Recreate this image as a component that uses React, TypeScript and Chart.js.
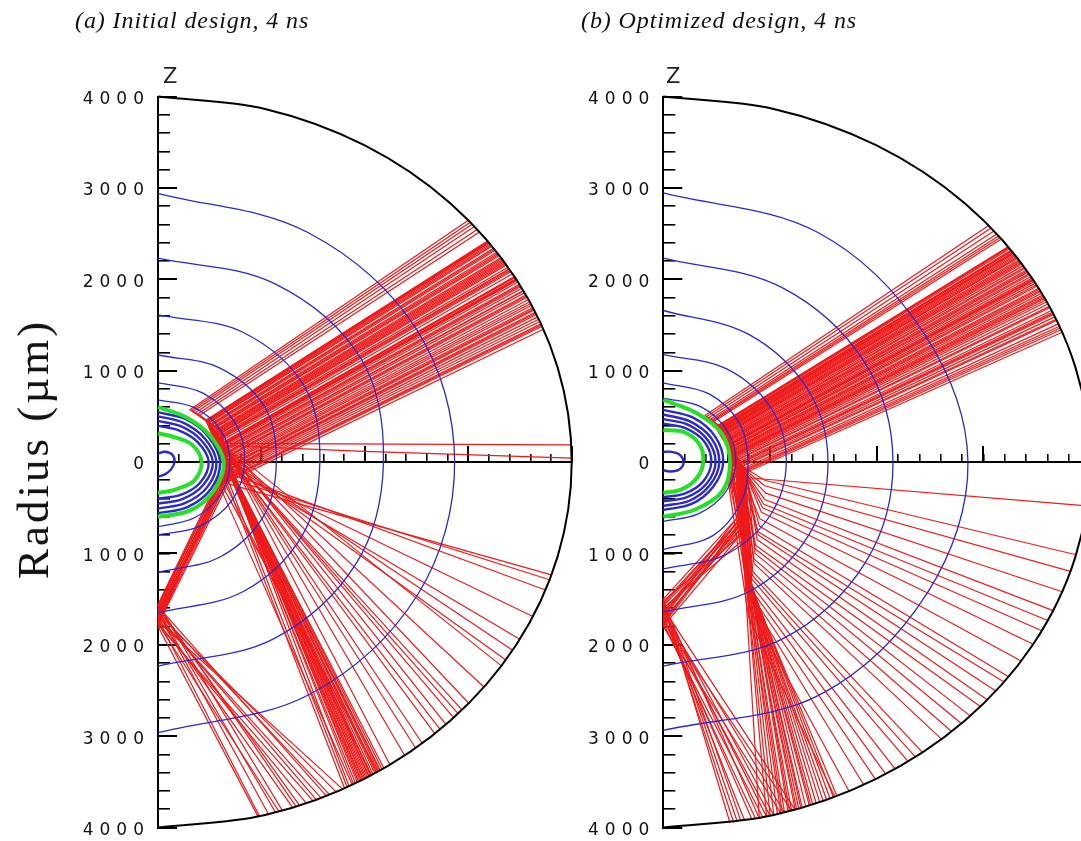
import React, { useEffect, useRef } from "react";
import { Chart, registerables } from "chart.js";

Chart.register(...registerables);

// ---------------- data (µm) ----------------
const boundaryRadius = 4000;
const boundaryAngles = [90, 75, 60, 45, 30, 15, 0, -15, -30, -45, -60, -75, -90];
const contourAngles = [90, 60, 30, 0, -30, -60, -90];

// contour radii sampled at contourAngles
const leftBlueThin: number[][] = [
  [2941, 2900, 2890, 2868, 2900, 2935, 2963],
  [2230, 2255, 2265, 2180, 2215, 2235, 2233],
  [1609, 1640, 1640, 1565, 1610, 1640, 1650],
  [1171, 1190, 1195, 1144, 1180, 1200, 1207],
  [868, 870, 860, 838, 830, 810, 800],
  [679, 690, 700, 696, 700, 705, 708],
];
const leftBlueThick: number[][] = [
  [545, 540, 560, 600, 590, 570, 560],
  [500, 495, 520, 565, 550, 520, 510],
  [450, 450, 480, 530, 505, 470, 455],
  [395, 400, 440, 490, 465, 420, 400],
  [90, 130, 160, 160, 150, 150, 160],
];
const leftGreen: number[][] = [
  [600, 560, 580, 635, 625, 615, 599],
  [314, 315, 380, 422, 405, 345, 340],
];

const rightBlueThin: number[][] = [
  [2945, 2900, 2820, 2856, 2860, 2940, 2937],
  [2230, 2210, 2180, 2153, 2190, 2235, 2233],
  [1658, 1610, 1570, 1544, 1580, 1630, 1640],
  [1175, 1180, 1170, 1153, 1160, 1170, 1169],
  [867, 860, 830, 794, 850, 930, 958],
  [700, 700, 690, 680, 670, 655, 650],
];
const rightBlueThick: number[][] = [
  [570, 560, 560, 562, 540, 530, 525],
  [520, 510, 520, 525, 505, 490, 480],
  [470, 470, 480, 490, 470, 445, 430],
  [420, 425, 445, 450, 430, 400, 385],
  [110, 130, 170, 190, 170, 120, 90],
];
const rightGreen: number[][] = [
  [679, 620, 630, 625, 640, 600, 599],
  [350, 380, 390, 375, 360, 345, 340],
];

// turning surface radius of the rays in each panel
const leftTurnRadius = 650;
const rightTurnRadius = 640;

// rays: [entry angle on boundary, turning angle on the turning surface,
//        [x,y, ...] further bend / axis-reflection points, exit angle on boundary]
type Ray = [number, number, number[], number];

const leftSteepRays: Ray[] = [
  [37.0, 44.0, [700, -120], -62.5], [36.6, 42.4, [690, -100], -61.8],
  [36.4, 41.6, [705, -135], -61.0], [36.2, 40.9, [720, -150], -61.2],
  [35.8, 39.3, [705, -130], -60.8], [35.6, 38.5, [720, -155], -59.8],
  [35.0, 36.2, [730, -170], -60.3], [34.6, 34.6, [695, -115], -60.5],
  [34.4, 33.9, [715, -140], -60.0], [33.8, 31.5, [740, -190], -59.6],
  [33.6, 30.8, [735, -180], -59.1], [33.0, 28.5, [725, -160], -59.3],
  [32.8, 27.6, [760, -210], -58.2], [32.2, 25.3, [750, -200], -59.0],
  [31.8, 23.8, [710, -140], -60.2], [31.6, 23.0, [735, -175], -58.7],
  [30.3, 17.8, [760, -215], -58.4], [30.1, 17.0, [770, -235], -57.6],
  [29.5, 14.6, [745, -185], -58.1], [28.7, 11.4, [770, -230], -57.8],
  [28.4, 10.1, [745, -190], -59.4], [28.0, 8.5, [755, -200], -57.5],
  [27.2, 5.1, [780, -245], -57.2], [26.4, 1.7, [765, -220], -56.9],
  [25.7, -1.4, [690, -130], -60.6], [25.0, -4.6, [700, -150], -61.5],
  [24.2, -8.4, [], -62.8], [23.4, -12.3, [], -63.2],
  [22.6, -16.4, [], -58.9], [21.8, -20.8, [], -57.9], [21.3, -23.7, [], -62.0],
];
const leftMirrorRays: Ray[] = [
  [41.4, 61.7, [600, 350, 640, -60, 0, -1560], -72.5],
  [41.0, 59.9, [605, 345, 650, -80, 0, -1600], -70.0],
  [40.6, 58.4, [610, 340, 660, -100, 0, -1640], -74.5],
  [40.1, 56.2, [615, 335, 670, -120, 0, -1680], -67.5],
  [39.5, 53.8, [620, 330, 680, -140, 0, -1720], -75.8],
  [39.0, 51.8, [625, 325, 690, -160, 0, -1760], -69.0],
  [37.1, 44.3, [655, -85, 0, -1570], -70.5],
  [34.8, 35.4, [650, -70, 0, -1580], -66.0], [33.4, 30.0, [665, -95, 0, -1620], -73.5],
  [31.9, 24.1, [680, -115, 0, -1660], -64.5], [30.0, 16.7, [700, -140, 0, -1700], -71.0],
  [28.9, 12.3, [685, -125, 0, -1690], -66.8],
  [27.6, 6.9, [660, -90, 0, -1740], -63.5], [26.0, 0.0, [710, -160, 0, -1780], -68.0],
  [24.6, -6.4, [0, -1800], -76.0], [23.8, -10.3, [0, -1770], -73.0],
  [22.2, -18.6, [0, -1640], -65.5],
];
const leftFanRays: Ray[] = [
  [37.2, 44.7, [715, 25], -51.5],
  [36.9, 43.6, [700, 40], -55.9], [36.8, 43.2, [710, 30], -53.4],
  [35.4, 37.7, [720, 20], -50.3], [34.0, 32.3, [730, 0], -48.0],
  [33.2, 29.3, [750, -5], -43.5],
  [32.6, 26.9, [740, -20], -47.0], [31.4, 22.2, [745, 30], -45.9],
  [31.0, 20.6, [765, 40], -38.0],
  [30.5, 18.6, [750, 10], -44.4], [29.8, 15.9, [755, -10], -42.7],
  [29.1, 13.1, [760, 50], -41.3], [27.9, 8.0, [770, 70], -33.9],
  [27.0, 4.2, [], -31.0],
  [26.8, 3.3, [], -32.8], [25.4, -2.8, [], -29.0], [24.8, -5.6, [], -25.0],
  [24.0, -9.3, [], -20.5], [23.0, -14.3, [], -18.8], [22.0, -19.6, [], -18.0],
];
const leftFlatRays: Ray[] = [
  [30.4, 18.2, [], 2.7],
  [29.9, 16.3, [1934, 120], 0.6],
];

const rightSteepRays: Ray[] = [
  [36.0, 37.8, [700, -40, 740, -1000], -74.0], [35.9, 37.4, [705, -55, 755, -1020], -71.8],
  [35.7, 36.8, [710, -60, 760, -1050], -72.5], [35.4, 35.7, [720, -80, 750, -950], -76.0],
  [35.3, 35.4, [715, -75, 745, -930], -75.5],
  [34.9, 34.1, [705, -50, 770, -1100], -71.0], [34.6, 33.0, [715, -70, 745, -900], -77.0],
  [34.2, 31.7, [725, -90, 780, -1150], -70.0], [33.6, 29.7, [735, -110, 755, -1000], -73.5],
  [33.4, 28.9, [740, -115, 785, -1180], -69.8],
  [33.2, 28.2, [700, -60, 790, -1200], -69.0], [32.8, 26.9, [745, -120, 765, -1050], -72.0],
  [32.0, 24.2, [710, -80, 750, -920], -75.0], [31.5, 22.4, [725, -95, 760, -1000], -73.8],
  [30.5, 19.0, [755, -130, 800, -1250], -68.0],
  [30.0, 17.2, [720, -90, 775, -1100], -71.5], [29.8, 16.5, [760, -135, 800, -1230], -68.5],
  [29.6, 15.8, [730, -100, 760, -980], -74.5], [28.4, 11.5, [765, -140, 810, -1300], -67.0],
  [27.8, 9.4, [740, -110, 785, -1150], -70.5], [27.0, 6.5, [745, -115, 775, -1080], -71.2],
  [26.6, 5.0, [750, -120, 770, -1000], -73.0],
  [25.2, -0.2, [775, -150, 820, -1350], -66.5], [24.2, -4.2, [795, -1200], -69.5],
  [23.4, -7.3, [790, -1250], -67.5],
  [22.8, -9.8, [780, -1050], -72.8], [21.2, -16.7, [830, -1400], -66.0],
];
const rightMirrorRays: Ray[] = [
  [40.3, 52.5, [590, 340, 680, -40, 700, -600, 0, -1500], -79.5],
  [39.8, 50.8, [595, 335, 690, -60, 710, -640, 0, -1540], -77.0],
  [39.2, 48.7, [600, 330, 700, -80, 720, -680, 0, -1580], -80.5],
  [38.6, 46.7, [605, 325, 710, -100, 730, -720, 0, -1620], -75.0],
  [35.2, 35.0, [700, -60, 725, -560, 0, -1660], -73.5],
  [34.8, 33.7, [705, -70, 730, -620, 0, -1560], -80.0],
  [33.9, 30.6, [710, -80, 735, -600, 0, -1700], -78.0],
  [32.5, 25.9, [720, -100, 745, -650, 0, -1740], -72.5],
  [31.0, 20.7, [690, -40, 715, -700, 0, -1780], -76.5],
  [29.0, 13.7, [730, -120, 750, -760, 0, -1800], -74.0],
  [28.2, 10.8, [715, -90, 740, -760, 0, -1640], -76.0],
  [27.5, 8.3, [705, -70, 730, -800, 0, -1520], -81.0],
  [26.0, 2.8, [740, -140, 760, -840, 0, -1600], -72.0],
  [24.5, -3.0, [740, -580, 0, -1680], -79.0],
  [23.0, -8.9, [755, -700, 0, -1720], -75.5],
  [21.5, -15.3, [745, -620, 0, -1760], -77.5],
];
const rightFanRays: Ray[] = [
  [38.2, 45.3, [700, -20, 950, -200], -14.7], [37.9, 44.3, [710, -30, 950, -260], -17.4],
  [37.6, 43.2, [720, -40, 960, -340], -20.8], [36.1, 38.1, [730, -50, 950, -410], -24.0],
  [35.0, 34.4, [740, -60, 940, -460], -25.7], [34.4, 32.3, [745, -65, 930, -500], -27.5],
  [34.0, 31.0, [750, -70, 920, -550], -29.9],
  [33.0, 27.5, [700, -30, 905, -620], -33.0], [32.2, 24.8, [765, -85, 890, -800], -38.8],
  [31.7, 23.1, [760, -80, 900, -700], -36.0],
  [31.3, 21.7, [710, -40, 885, -760], -37.0], [30.8, 20.0, [770, -90, 880, -850], -40.6],
  [30.2, 17.9, [720, -50, 865, -910], -42.0], [29.9, 16.9, [725, -55, 860, -950], -44.0],
  [29.3, 14.7, [780, -100, 860, -1000], -45.7],
  [28.8, 13.0, [730, -60, 850, -1060], -47.5], [28.0, 10.1, [740, -70, 850, -1110], -49.3],
  [27.2, 7.3, [750, -80, 840, -1200], -52.6], [26.8, 5.8, [755, -85, 835, -1240], -53.8],
  [26.3, 3.9, [760, -90, 830, -1280], -55.0],
  [25.6, 1.3, [770, -100, 830, -1350], -57.1], [25.0, -1.0, [745, -75, 820, -1450], -60.2],
  [24.0, -4.9, [825, -1400], -58.6],
  [23.8, -5.7, [820, -1510], -62.0], [22.2, -12.3, [810, -1600], -64.2],
  [20.8, -18.5, [800, -1700], -66.3],
];
const rightFlatRays: Ray[] = [[21.8, -14.1, [], -6.9]];

const yTickStep = 1000;
const yMinorStep = 200;
const xTickStep = 1000;
const xMinorStep = 200;

const titleLeft = "(a) Initial design, 4 ns";
const titleRight = "(b) Optimized design, 4 ns";
const axisName = "Z";
const yAxisTitle = "Radius (µm)";

// ---------------- helpers ----------------
const RED = "#ee1a1a";
const BLUE = "#2a2acc";
const GREEN = "#26e026";

function polar(r: number, deg: number) {
  const a = (deg * Math.PI) / 180;
  return { x: r * Math.cos(a), y: r * Math.sin(a) };
}
function contourPts(radii: number[]) {
  return radii.map((r, i) => polar(r, contourAngles[i]));
}
function rayPts(ray: Ray, turnRadius: number) {
  const [a, t, via, b] = ray;
  const pts = [polar(boundaryRadius, a), polar(turnRadius, t)];
  for (let i = 0; i < via.length; i += 2) pts.push({ x: via[i], y: via[i + 1] });
  pts.push(polar(boundaryRadius, b));
  return pts;
}
function lineDs(data: any[], color: string, width: number, order: number, tension: number) {
  return {
    data,
    borderColor: color,
    backgroundColor: color,
    borderWidth: width,
    pointRadius: 0,
    showLine: true,
    tension,
    order,
    clip: false,
    fill: false,
    borderJoinStyle: "round" as const,
  };
}

type PanelSpec = {
  rays: Ray[];
  turnRadius: number;
  thin: number[][];
  thick: number[][];
  green: number[][];
  axisWidth: number;
  padRight: number;
};

const spacingPlugin = {
  id: "tickLetterSpacing",
  beforeDraw(chart: any) {
    chart.ctx.letterSpacing = "6px";
  },
  afterDraw(chart: any) {
    chart.ctx.letterSpacing = "0px";
  },
};

function Panel({ spec, left, width }: { spec: PanelSpec; left: number; width: number }) {
  const ref = useRef<HTMLCanvasElement | null>(null);
  useEffect(() => {
    if (!ref.current) return;
    const datasets: any[] = [];
    spec.rays.forEach((r) => datasets.push(lineDs(rayPts(r, spec.turnRadius), RED, 1.2, 4, 0)));
    spec.thin.forEach((c) => datasets.push(lineDs(contourPts(c), BLUE, 1.3, 3, 0.35)));
    spec.thick.forEach((c) => datasets.push(lineDs(contourPts(c), BLUE, 2.4, 2, 0.35)));
    spec.green.forEach((c) => datasets.push(lineDs(contourPts(c), GREEN, 4, 1, 0.35)));
    datasets.push(
      lineDs(boundaryAngles.map((a) => polar(boundaryRadius, a)), "#000", 2, 0, 0.34)
    );
    const chart = new Chart(ref.current, {
      type: "scatter",
      data: { datasets },
      options: {
        animation: false,
        responsive: false,
        events: [],
        layout: { padding: { left: 0, top: 96.5, right: spec.padRight, bottom: 13.5 } },
        plugins: { legend: { display: false }, tooltip: { enabled: false } },
        scales: {
          x: {
            type: "linear",
            min: 0,
            max: 4000,
            position: { y: 0 } as any,
            ticks: { display: false, stepSize: xTickStep },
            grid: { drawOnChartArea: false, tickLength: -17, color: "#000", lineWidth: 2 },
            border: { display: true, color: "#000", width: 2 },
          },
          xMinor: {
            type: "linear",
            axis: "x",
            min: 0,
            max: 4000,
            position: { y: 0 } as any,
            ticks: { display: false, stepSize: xMinorStep },
            grid: { drawOnChartArea: false, tickLength: -8, color: "#000", lineWidth: 1.6 },
            border: { display: false },
          },
          y: {
            type: "linear",
            min: -4000,
            max: 4000,
            position: "left",
            weight: 1,
            ticks: {
              stepSize: yTickStep,
              autoSkip: false,
              padding: 27,
              labelOffset: 3,
              color: "#111",
              font: { family: "DejaVu Sans", size: 17 },
              callback: (v: any) => String(Math.abs(Number(v))),
            },
            grid: { drawOnChartArea: false, tickLength: -19, color: "#000", lineWidth: 2 },
            border: { display: true, color: "#000", width: 2 },
            afterFit: (s: any) => {
              s.width = spec.axisWidth;
              s.paddingTop = 0;
              s.paddingBottom = 0;
            },
          },
          yMinor: {
            type: "linear",
            axis: "y",
            min: -4000,
            max: 4000,
            position: "left",
            weight: 0,
            ticks: { display: false, stepSize: yMinorStep },
            grid: { drawOnChartArea: false, tickLength: -12, color: "#000", lineWidth: 1.6 },
            border: { display: false },
            afterFit: (s: any) => {
              s.width = 0;
              s.paddingTop = 0;
              s.paddingBottom = 0;
            },
          },
        },
      } as any,
      plugins: [spacingPlugin],
    });
    return () => chart.destroy();
  }, []);
  return (
    <canvas
      ref={ref}
      width={width}
      height={841}
      style={{ position: "absolute", left, top: 0, width, height: 841 }}
    />
  );
}

const leftSpec: PanelSpec = {
  rays: [...leftSteepRays, ...leftMirrorRays, ...leftFanRays, ...leftFlatRays],
  turnRadius: leftTurnRadius,
  thin: leftBlueThin,
  thick: leftBlueThick,
  green: leftGreen,
  axisWidth: 158,
  padRight: 590 - 571.7,
};
const rightSpec: PanelSpec = {
  rays: [...rightSteepRays, ...rightMirrorRays, ...rightFanRays, ...rightFlatRays],
  turnRadius: rightTurnRadius,
  thin: rightBlueThin,
  thick: rightBlueThick,
  green: rightGreen,
  axisWidth: 663.3 - 570,
  padRight: 1100 - 1090,
};

const titleStyle: React.CSSProperties = {
  position: "absolute",
  top: 6,
  fontFamily: "'Liberation Serif', 'Times New Roman', serif",
  fontStyle: "italic",
  fontSize: 24,
  letterSpacing: 0.9,
  lineHeight: "28px",
  color: "#111",
  whiteSpace: "nowrap",
};
const zStyle: React.CSSProperties = {
  position: "absolute",
  top: 64,
  fontFamily: "'DejaVu Sans', sans-serif",
  fontSize: 21,
  lineHeight: "24px",
  color: "#222",
};

export default function App() {
  return (
    <div
      style={{
        position: "fixed",
        left: 0,
        top: 0,
        width: 1081,
        height: 841,
        overflow: "hidden",
        background: "#fff",
      }}
    >
      <Panel spec={leftSpec} left={0} width={590} />
      <Panel spec={rightSpec} left={570} width={530} />
      <div style={{ ...titleStyle, left: 75 }}>{titleLeft}</div>
      <div style={{ ...titleStyle, left: 581 }}>{titleRight}</div>
      <div style={{ ...zStyle, left: 163 }}>{axisName}</div>
      <div style={{ ...zStyle, left: 666 }}>{axisName}</div>
      <div
        style={{
          position: "absolute",
          left: 33,
          top: 449,
          transform: "translate(-50%, -50%) rotate(-90deg)",
          fontFamily: "'Liberation Serif', 'Times New Roman', serif",
          fontSize: 45,
          letterSpacing: 3,
          lineHeight: "50px",
          whiteSpace: "nowrap",
          color: "#111",
        }}
      >
        {yAxisTitle}
      </div>
    </div>
  );
}
